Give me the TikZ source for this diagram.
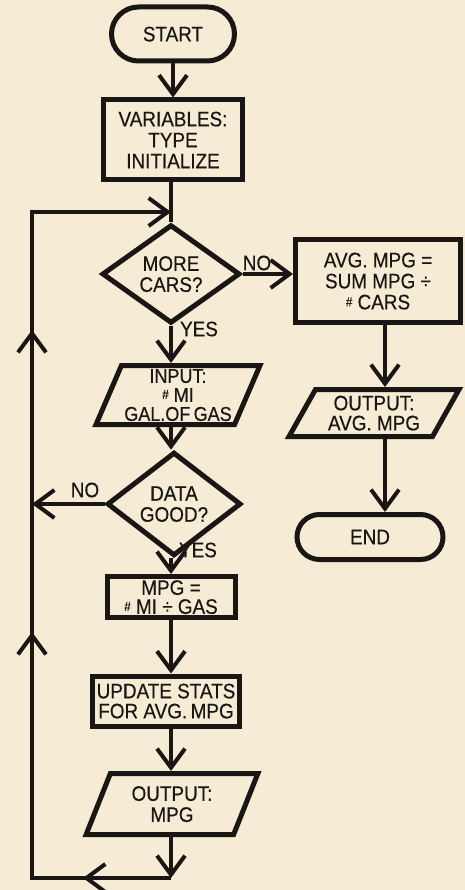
\documentclass[tikz,border=0pt]{standalone}
\usepackage{fontspec}
\setmainfont{Liberation Sans}[FakeStretch=0.9,FakeBold=0.4]
\usetikzlibrary{shapes.geometric,shapes.misc,arrows.meta}
\definecolor{paper}{RGB}{246,236,214}
\definecolor{ink}{RGB}{25,22,20}
\newcommand\hsh{\raisebox{3pt}{\fontsize{13}{13}\selectfont\#}}
\begin{document}
\begin{tikzpicture}[x=1pt,y=-1pt,
  every node/.style={font=\fontsize{21}{21}\selectfont, text=ink, align=center, inner sep=0pt},
  box/.style={draw=ink, line width=5pt, rectangle, text depth=0pt},
  term/.style={draw=ink, line width=5pt, rounded rectangle, text depth=0pt},
  dec/.style={draw=ink, line width=5pt, diamond, text depth=0pt},
  io/.style={draw=ink, line width=5pt, trapezium, trapezium stretches=true, text depth=0pt},
  ln/.style={draw=ink, line width=4pt},
  arr/.style={ln, -{Straight Barb[length=19pt,width=28pt]}},
  lbl/.style={font=\fontsize{21}{21}\selectfont}
]
\fill[paper] (0,0) rectangle (465,890);
\useasboundingbox (0,0) rectangle (465,890);

\coordinate (colx) at (171,0);
\coordinate (colr) at (385,0);

% main column
\node[term, minimum width=123pt, minimum height=54pt] (start) at (173,34) {START};
\node[box, minimum width=139pt, minimum height=80pt] (var) at (173,140) {VARIABLES:\\TYPE\\INITIALIZE};
\node[dec, minimum width=138pt, minimum height=76pt] (d1) at (171,274) {MORE\\CARS?};
\node[io, trapezium left angle=65, trapezium right angle=115, minimum width=164pt, minimum height=59pt,
      font=\fontsize{20}{19}\selectfont] (in) at (178,395) {INPUT:\\\hsh\ MI\\GAL.OF\,GAS};
\node[dec, minimum width=134pt, minimum height=76pt] (d2) at (174,504) {DATA\\GOOD?};
\node[box, minimum width=128pt, minimum height=41pt, font=\fontsize{21}{19}\selectfont] (mpg) at (171,597) {MPG =\\\hsh\ MI ÷ GAS};
\node[box, minimum width=147pt, minimum height=50pt, font=\fontsize{21}{20}\selectfont] (upd) at (166,701) {UPDATE STATS\\FOR AVG.\,MPG};
\node[io, trapezium left angle=66, trapezium right angle=114, minimum width=172pt, minimum height=61pt] (outm) at (172,804) {OUTPUT:\\MPG};

% right column
\node[box, minimum width=165pt, minimum height=82pt] (avg) at (378,281) {AVG. MPG =\\SUM MPG ÷\\\hsh\ CARS};
\node[io, trapezium left angle=59, trapezium right angle=121, minimum width=170pt, minimum height=47pt,
      font=\fontsize{21}{20}\selectfont] (outa) at (374,413) {OUTPUT:\\AVG. MPG};
\node[term, minimum width=146pt, minimum height=45pt] (endn) at (370,537) {END};

% labels
\node[lbl] (no1) at (257,263) {NO};
\node[lbl] (yes1) at (199,329) {YES};
\node[lbl] (no2) at (85,490) {NO};
\node[lbl] (yes2) at (198,550) {YES};

% loop coordinates
\coordinate (j) at (171,212);
\coordinate (tl) at (32,212);
\coordinate (bl) at (32,878);
\coordinate (br) at (171,878);
\coordinate (up1) at (32,330);
\coordinate (up2) at (32,632);
\coordinate (lm) at (83,878);

% connectors
\draw[arr] (start.south) -- (var.north);
\draw[ln] (var.south -| colx) -- (d1.north);
\draw[ln] (br) -- (bl) -- (tl) -- (j);
\draw[arr] (tl) -- (j);
\draw[arr] (bl) -- (up2);
\draw[arr] (up2) -- (up1);
\draw[arr] (br) -- (lm);
\draw[arr] (d1.east) -- (d1.east -| avg.west);
\draw[arr] (d1.south) -- (in.north -| colx);
\draw[arr] (in.south -| colx) -- (d2.north -| colx);
\draw[arr] (d2.west) -- (d2.west -| tl);
\draw[arr] (d2.south -| colx) -- (mpg.north -| colx);
\draw[arr] (mpg.south -| colx) -- (upd.north -| colx);
\draw[arr] (upd.south -| colx) -- (outm.north -| colx);
\draw[arr] (outm.south -| colx) -- (br);
\draw[arr] (avg.south -| colr) -- (outa.north -| colr);
\draw[arr] (outa.south -| colr) -- (endn.north -| colr);
\end{tikzpicture}
\end{document}
